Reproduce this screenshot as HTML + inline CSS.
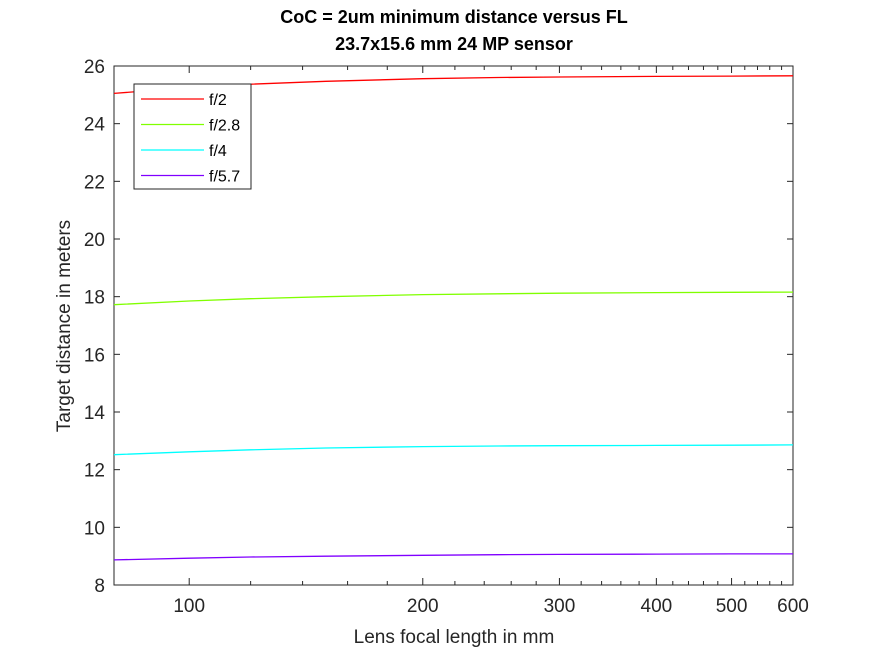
<!DOCTYPE html>
<html><head><meta charset="utf-8"><style>
body{margin:0;background:#fff;}
svg{display:block;font-family:"Liberation Sans",Arial,sans-serif;}
</style></head><body>
<svg id="chart" width="875" height="656">
<rect width="875" height="656" fill="#fff"/>
<g id="plot"></g>
</svg>
<script>
const focalLengths=[80,100,120,150,200,250,300,400,500,600];
const seriesF2=[25.05,25.25,25.37,25.47,25.56,25.60,25.62,25.64,25.65,25.66];
const seriesF28=[17.72,17.85,17.93,18.00,18.07,18.10,18.12,18.14,18.15,18.16];
const seriesF4=[12.52,12.62,12.69,12.75,12.80,12.82,12.83,12.84,12.85,12.86];
const seriesF57=[8.87,8.93,8.97,9.00,9.03,9.05,9.06,9.07,9.08,9.08];
const seriesNames=["f/2","f/2.8","f/4","f/5.7"];
const seriesColors=["#ff0000","#80ff00","#00ffff","#8000ff"];
const xTicks=[100,200,300,400,500,600];
const yTicks=[8,10,12,14,16,18,20,22,24,26];

const L=114,R=793,T=66,B=585,xmin=80,xmax=600,ymin=8,ymax=26;
const NS="http://www.w3.org/2000/svg";
const g=document.getElementById('plot');
function X(v){return L+(Math.log10(v)-Math.log10(xmin))/(Math.log10(xmax)-Math.log10(xmin))*(R-L);}
function Y(v){return B-(v-ymin)/(ymax-ymin)*(B-T);}
function el(tag,attrs,parent){const e=document.createElementNS(NS,tag);for(const k in attrs)e.setAttribute(k,attrs[k]);(parent||g).appendChild(e);return e;}

const box=el('rect',{x:L,y:T,width:R-L,height:B-T,fill:'none',stroke:'#262626','stroke-width':1});



yTicks.forEach(v=>{
  const y=Y(v);
  el('line',{x1:L,y1:y,x2:L+6,y2:y,stroke:'#262626'});
  el('line',{x1:R,y1:y,x2:R-6,y2:y,stroke:'#262626'});
  const t=el('text',{x:L-9,y:y+7,'text-anchor':'end','font-size':19,fill:'#262626'});
  t.textContent=v;
  
  
});
for(let v=120;v<600;v+=20){
  if(xTicks.includes(v))continue;
  const x=X(v);
  el('line',{x1:x,y1:B,x2:x,y2:B-4,stroke:'#262626'});
  el('line',{x1:x,y1:T,x2:x,y2:T+4,stroke:'#262626'});
}
xTicks.forEach(v=>{
  const x=X(v);
  el('line',{x1:x,y1:B,x2:x,y2:B-7,stroke:'#262626'});
  el('line',{x1:x,y1:T,x2:x,y2:T+7,stroke:'#262626'});
  const t=el('text',{x:x,y:B+27,'text-anchor':'middle','font-size':19,fill:'#262626'});
  t.textContent=v;
  
  
});

[seriesF2,seriesF28,seriesF4,seriesF57].forEach((s,i)=>{
  const d=s.map((v,j)=>(j?'L':'M')+X(focalLengths[j]).toFixed(1)+','+Y(v).toFixed(1)).join(' ');
  const p=el('path',{d:d,fill:'none',stroke:seriesColors[i],'stroke-width':1.3});
  
  
});

const lg=el('g',{});


el('rect',{x:134,y:84,width:117,height:105,fill:'#fff',stroke:'#262626'},lg);
seriesNames.forEach((n,i)=>{
  const y=99+i*25.5;
  el('line',{x1:141,y1:y,x2:204,y2:y,stroke:seriesColors[i],'stroke-width':1.3},lg);
  const t=el('text',{x:209,y:y+6,'font-size':16,fill:'#000'},lg);
  t.textContent=n;
  
  
});

const t1=el('text',{x:454,y:23,'text-anchor':'middle','font-size':18,'font-weight':'bold',fill:'#000'});
t1.textContent='CoC = 2um minimum distance versus FL';


const t2=el('text',{x:454,y:50,'text-anchor':'middle','font-size':18,'font-weight':'bold',fill:'#000'});
t2.textContent='23.7x15.6 mm 24 MP sensor';


const xt=el('text',{x:454,y:643,'text-anchor':'middle','font-size':19,fill:'#262626'});
xt.textContent='Lens focal length in mm';


const yt=el('text',{x:0,y:0,'text-anchor':'middle','font-size':19,fill:'#262626',transform:'translate(70,326) rotate(-90)'});
yt.textContent='Target distance in meters';


</script>
</body></html>
